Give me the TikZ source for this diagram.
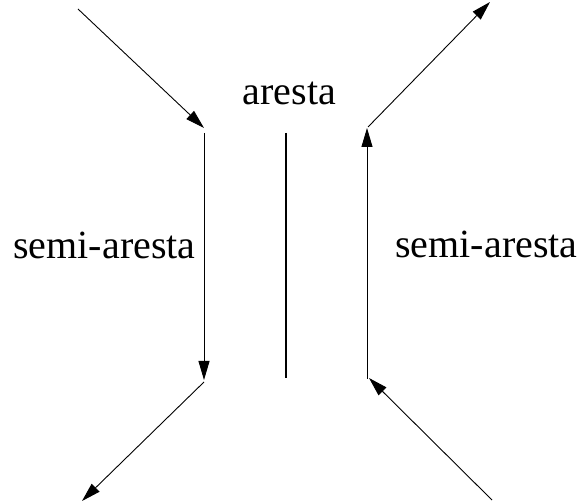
\documentclass[tikz,border=0pt]{standalone}
\usepackage{fontspec}
\setmainfont{Liberation Serif}
\usetikzlibrary{arrows.meta}
\begin{document}
\begin{tikzpicture}[x=1pt,y=-1pt,
  halfedge/.style={line width=0.9pt,-{Triangle[length=19pt,width=11pt]}},
  edgebar/.style={line width=2pt},
  lbl/.style={font=\fontsize{40}{44}\selectfont,inner sep=0pt,anchor=base}]
\useasboundingbox (0,0) rectangle (584,502);
\coordinate (a0) at (78,9);
\coordinate (a1) at (204,128);
\coordinate (b0) at (204,133);
\coordinate (b1) at (204,380);
\coordinate (c0) at (204,382);
\coordinate (c1) at (82,501);
\coordinate (d0) at (492,500);
\coordinate (d1) at (369,378);
\coordinate (e0) at (367,379);
\coordinate (e1) at (367,128);
\coordinate (f0) at (368,127);
\coordinate (f1) at (490,2);
\coordinate (m0) at (286,133);
\coordinate (m1) at (286,378);
\draw[halfedge] (a0) -- (a1);
\draw[halfedge] (b0) -- (b1);
\draw[halfedge] (c0) -- (c1);
\draw[halfedge] (d0) -- (d1);
\draw[halfedge] (e0) -- (e1);
\draw[halfedge] (f0) -- (f1);
\draw[edgebar] (m0) -- (m1);
\node[lbl] (t0) at (289.5,105) {aresta};
\node[lbl] (t1) at (104.5,259) {semi-aresta};
\node[lbl] (t2) at (486.5,258) {semi-aresta};
\end{tikzpicture}
\end{document}
